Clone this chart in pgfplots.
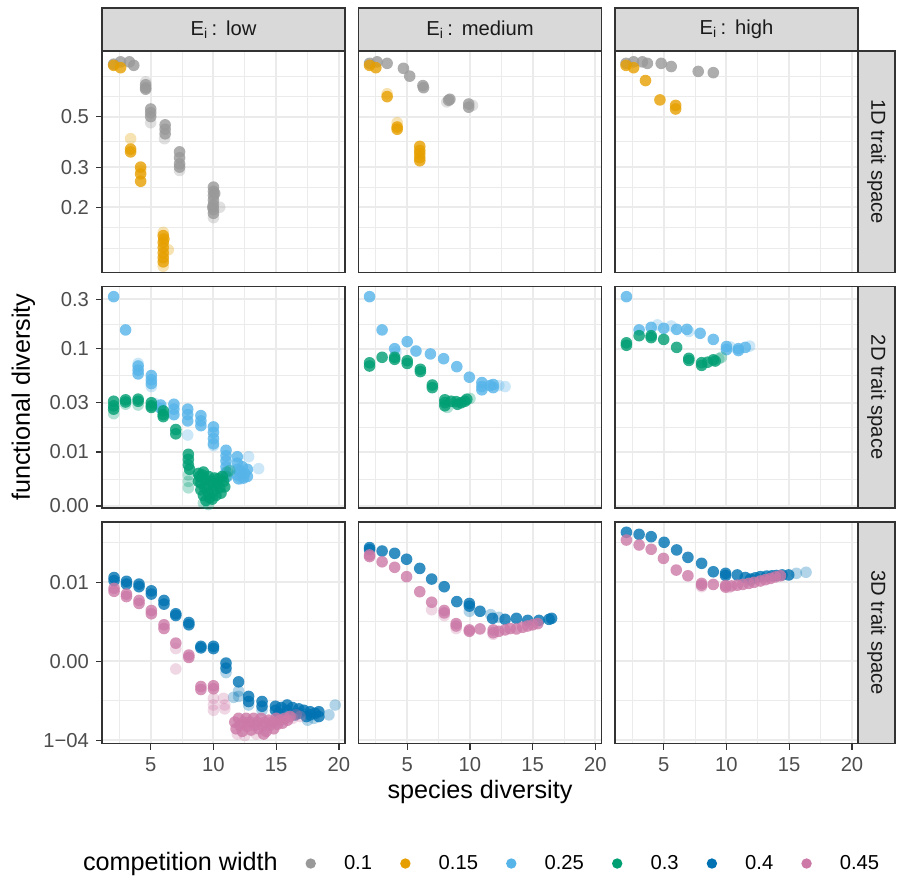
\documentclass[border=0pt]{standalone}
\usepackage{fontspec}
\setmainfont{Liberation Sans}
\usepackage{pgfplots}
\pgfplotsset{compat=1.18}
\definecolor{cgray}{HTML}{999999}
\definecolor{corange}{HTML}{E69F00}
\definecolor{csky}{HTML}{56B4E9}
\definecolor{cgreen}{HTML}{009E73}
\definecolor{cblue}{HTML}{0072B2}
\definecolor{cpink}{HTML}{CC79A7}
\definecolor{grey92}{HTML}{EBEBEB}
\definecolor{grey85}{HTML}{D9D9D9}
\definecolor{grey30}{HTML}{4D4D4D}
\definecolor{grey20}{HTML}{333333}
\definecolor{grey10}{HTML}{1A1A1A}
\newcommand{\smallfont}{\fontsize{10.1}{12}\selectfont}
\newcommand{\bigfont}{\fontsize{12.6}{15}\selectfont}

% filled circle without outline (like ggplot shape 19)
\pgfdeclareplotmark{dot}{\pgfpathcircle{\pgfpointorigin}{\pgfplotmarksize}\pgfusepathqfill}

\pgfplotsset{
  panel/.style={
    scale only axis, width=121.5pt, height=110.75pt, anchor=north west,
    xmin=1.12, xmax=20.48,
    xtick={5,10,15,20}, minor xtick={2.5,7.5,12.5,17.5},
    xticklabels={}, yticklabels={},
    grid=both,
    major grid style={draw=grey92, line width=1pt},
    minor grid style={draw=grey92, line width=0.5pt},
    axis line style={draw=grey20, line width=0.9pt},
    tick align=outside, tick pos=left,
    major tick length=3pt, minor tick length=0pt,
    tick style={line width=0.6pt},
    xtick style={draw=none}, ytick style={draw=none},
    tick label style={font=\smallfont, text=grey30},
    clip=true,
  },
  ylab/.style={ytick style={draw=grey20}},
  xlab/.style={xtick style={draw=grey20}, xticklabels={5,10,15,20},
    xticklabel style={yshift=-0.5pt}},
  row1/.style={ymin=0.1033, ymax=0.971, ytick={0.2,0.3,0.5},
    minor ytick={0.1322,0.1633,0.2449,0.3873,0.6124,0.75}},
  row2/.style={ymin=0.00287, ymax=0.40, ytick={0.003,0.01,0.03,0.1,0.3},
    minor ytick={0.005477,0.01732,0.05477,0.1732}},
  row3/.style={ymin=9.11e-5, ymax=0.058, ytick={0.0001,0.001,0.01},
    minor ytick={0.0003162,0.003162,0.03162}},
  pt/.style={only marks, mark=dot, mark size=2.9pt, mark options={fill=#1, fill opacity=0.8}},
  ptf/.style={only marks, mark=dot, mark size=2.9pt, mark options={fill=#1, fill opacity=0.3}},
}

\begin{document}
\begin{tikzpicture}
\useasboundingbox (0pt,0pt) rectangle (448.5pt,-439pt);

% ---------- row 1: 1D trait space ----------
\begin{axis}[ymode=log, panel, row1, ylab, yticklabels={0.2,0.3,0.5}, at={(51pt,-25.5pt)}]
  \addplot[pt=cgray] coordinates {
    (2.05,0.85) (2.6,0.87) (3.3,0.87) (3.65,0.84)
    (4.6,0.69) (4.6,0.67) (4.6,0.66)
    (5.0,0.54) (5.0,0.52) (5.0,0.50)
    (6.15,0.46) (6.15,0.44) (6.15,0.42)
    (7.3,0.35) (7.3,0.33) (7.3,0.31) (7.3,0.30)
    (10.0,0.245) (10.0,0.235) (10.0,0.225) (10.0,0.215) (10.0,0.205)
    (10.0,0.195) (10.0,0.188) (10.1,0.23) (9.95,0.20)};
  \addplot[ptf=cgray] coordinates {
    (4.6,0.71) (5.0,0.47) (6.1,0.40) (7.3,0.29) (10.5,0.20) (10.0,0.18)};
  \addplot[pt=corange] coordinates {
    (2.05,0.84) (2.6,0.82) (3.4,0.36) (3.4,0.35)
    (4.2,0.30) (4.2,0.28) (4.2,0.26)
    (6.0,0.15) (6.0,0.14) (6.0,0.133) (6.0,0.126) (6.0,0.12) (6.0,0.115) (6.05,0.145)};
  \addplot[ptf=corange] coordinates {
    (3.4,0.40) (4.2,0.29) (6.4,0.13) (6.0,0.11) (6.0,0.155)};
\end{axis}

\begin{axis}[ymode=log, panel, row1, at={(179.25pt,-25.5pt)}]
  \addplot[pt=cgray] coordinates {
    (2.0,0.857) (2.6,0.87) (3.4,0.857) (4.7,0.815) (5.2,0.753)
    (6.25,0.684) (6.3,0.67) (8.4,0.596) (8.3,0.59) (9.9,0.568) (9.9,0.55)};
  \addplot[ptf=cgray] coordinates {(8.15,0.58) (10.2,0.56)};
  \addplot[pt=corange] coordinates {
    (2.0,0.84) (2.5,0.82) (3.4,0.612) (4.2,0.45) (4.2,0.44)
    (6.0,0.37) (6.0,0.355) (6.0,0.343) (6.0,0.33) (6.0,0.32)};
  \addplot[ptf=corange] coordinates {(4.2,0.47) (3.4,0.63)};
\end{axis}

\begin{axis}[ymode=log, panel, row1, at={(307.5pt,-25.5pt)}]
  \addplot[pt=cgray] coordinates {
    (2.0,0.857) (2.6,0.87) (3.3,0.87) (3.7,0.857) (4.8,0.857)
    (5.6,0.83) (7.75,0.79) (8.95,0.78)};
  \addplot[pt=corange] coordinates {
    (2.0,0.84) (2.6,0.82) (3.55,0.72) (4.7,0.592) (5.95,0.56) (5.95,0.54)};
\end{axis}

% ---------- row 2: 2D trait space ----------
\begin{axis}[ymode=log, panel, row2, ylab, yticklabels={0.00,0.01,0.03,0.1,0.3}, at={(51pt,-143.25pt)}]
  \addplot[pt=csky] coordinates {
    (2.05,0.319) (3.0,0.152)
    (4.0,0.068) (4.0,0.062) (4.0,0.057)
    (5.05,0.055) (5.05,0.05) (5.05,0.046)
    (5.8,0.0285) (5.8,0.0265)
    (6.85,0.029) (6.85,0.026) (6.85,0.023)
    (7.95,0.026) (7.95,0.023) (7.95,0.020)
    (9.0,0.0225) (9.0,0.020) (9.0,0.018)
    (10.0,0.0175) (10.0,0.0155) (10.0,0.0135) (10.0,0.012)
    (11.0,0.0104) (11.0,0.0092) (11.0,0.0082) (11.0,0.0072) (11.0,0.0064) (11.1,0.0058)
    (11.9,0.0090) (11.9,0.0078) (11.9,0.0068) (11.9,0.0060) (12.1,0.0065) (12.0,0.0055)
    (12.3,0.0072) (12.5,0.0062) (12.7,0.0068) (12.7,0.0058) (12.4,0.0056)};
  \addplot[ptf=csky] coordinates {
    (4.0,0.072) (5.05,0.043) (7.95,0.0146) (10.0,0.0115) (12.8,0.0090)
    (13.6,0.0069) (12.2,0.0055) (5.3,0.0295)};
  \addplot[pt=cgreen] coordinates {
    (2.05,0.031) (2.05,0.028) (2.05,0.026) (3.0,0.032) (3.0,0.0305)
    (4.0,0.0325) (4.0,0.031) (5.05,0.030) (5.05,0.028) (5.05,0.027)
    (6.0,0.025) (6.0,0.023) (6.0,0.022) (7.0,0.0165) (7.0,0.015)
    (8.0,0.0095) (8.0,0.0085) (8.0,0.0075) (8.1,0.0068)
    (8.8,0.0062) (8.8,0.0052) (8.9,0.0058) (9.0,0.0050) (9.0,0.0043) (9.2,0.0038)
    (9.3,0.0055) (9.2,0.0064) (9.5,0.0046) (9.6,0.0040) (9.7,0.0036) (9.6,0.0058)
    (9.8,0.0052) (10.0,0.0048) (10.0,0.0042) (10.2,0.0038) (10.3,0.0050)
    (10.1,0.0056) (10.5,0.0045) (10.6,0.0040) (10.8,0.0052) (10.9,0.0046)
    (9.4,0.0034) (9.9,0.0035) (9.1,0.0060) (10.7,0.0058) (10.4,0.0055) (9.3,0.0045)};
  \addplot[ptf=cgreen] coordinates {
    (2.05,0.0235) (3.0,0.029) (4.0,0.0285) (8.0,0.006) (8.0,0.0052) (8.0,0.0045)
    (9.2,0.0032) (9.6,0.0031) (11.0,0.0058) (11.1,0.0064) (11.3,0.0066)};
\end{axis}

\begin{axis}[ymode=log, panel, row2, at={(179.25pt,-143.25pt)}]
  \addplot[pt=csky] coordinates {
    (2.0,0.319) (3.0,0.152) (4.0,0.100) (5.0,0.117) (5.7,0.095) (6.85,0.089)
    (7.9,0.080) (8.95,0.067) (9.95,0.053) (10.95,0.047) (10.95,0.043)
    (10.95,0.040) (11.85,0.045) (11.85,0.042) (11.6,0.044)};
  \addplot[ptf=csky] coordinates {(4.1,0.093) (12.8,0.043) (12.3,0.044)};
  \addplot[pt=cgreen] coordinates {
    (2.0,0.073) (2.0,0.068) (3.0,0.0826) (4.0,0.0826) (4.0,0.079) (5.0,0.0765)
    (5.0,0.072) (6.05,0.0632) (6.05,0.060) (7.0,0.0445) (7.0,0.042)
    (8.0,0.032) (8.0,0.030) (8.0,0.028) (8.5,0.031) (8.9,0.0307) (9.0,0.029)
    (9.3,0.030) (9.75,0.0324) (9.6,0.031)};
  \addplot[ptf=cgreen] coordinates {(10.0,0.033) (8.2,0.027)};
\end{axis}

\begin{axis}[ymode=log, panel, row2, at={(307.5pt,-143.25pt)}]
  \addplot[pt=csky] coordinates {
    (2.03,0.319) (3.04,0.152) (4.0,0.161) (5.0,0.1575) (6.03,0.154) (6.85,0.154)
    (7.9,0.141) (8.95,0.123) (10.0,0.105) (10.0,0.098) (10.95,0.100)
    (10.95,0.096) (11.5,0.103)};
  \addplot[ptf=csky] coordinates {
    (4.5,0.17) (5.6,0.166) (7.0,0.147) (11.85,0.106) (10.3,0.104)};
  \addplot[pt=cgreen] coordinates {
    (2.03,0.114) (2.03,0.108) (3.04,0.1336) (4.0,0.1336) (4.0,0.128) (5.0,0.123)
    (6.03,0.103) (7.0,0.0807) (7.0,0.077) (8.02,0.0732) (8.02,0.069)
    (8.5,0.074) (8.95,0.078) (9.1,0.076)};
  \addplot[ptf=cgreen] coordinates {(9.6,0.0826) (9.4,0.080)};
\end{axis}

% ---------- row 3: 3D trait space ----------
\begin{axis}[ymode=log, panel, row3, ylab, xlab, yticklabels={1−04,0.00,0.01}, at={(51pt,-261pt)}]
  \addplot[pt=cblue] coordinates {
    (2.08,0.0115) (2.08,0.0105) (3.07,0.0103) (3.07,0.0095) (4.07,0.0095)
    (4.07,0.0088) (5.05,0.0078) (5.05,0.0071) (6.06,0.0059) (6.06,0.0053)
    (7.0,0.0040) (7.0,0.0038) (8.04,0.0031) (8.04,0.0029) (9.0,0.00155)
    (9.0,0.00148) (10.0,0.00155) (10.0,0.00145) (11.0,0.00095) (11.0,0.00082)
    (12.0,0.00055) (12.8,0.00036) (12.8,0.00031) (13.87,0.00031) (13.87,0.00027)
    (14.94,0.00027) (14.94,0.00024) (15.4,0.00026) (15.87,0.00028) (15.87,0.00024)
    (16.3,0.00026) (16.8,0.00025) (16.8,0.00022) (17.2,0.00024) (17.7,0.00023)
    (17.7,0.00021) (18.1,0.00022) (18.4,0.00023) (18.4,0.00020) (15.2,0.00022)
    (16.5,0.00021) (17.4,0.00020)};
  \addplot[ptf=cblue] coordinates {
    (11.0,0.00072) (12.0,0.00042) (12.0,0.00036) (12.8,0.00028) (13.87,0.00024)
    (19.2,0.00021) (19.7,0.00028) (17.5,0.00018) (18.0,0.00019) (11.6,0.00035)};
  \addplot[pt=cpink] coordinates {
    (2.08,0.0084) (2.08,0.0077) (3.07,0.0071) (3.07,0.0066) (4.07,0.0059)
    (4.07,0.0054) (5.05,0.0044) (5.05,0.0040) (6.06,0.0029) (6.06,0.0026)
    (7.0,0.0017) (8.04,0.0012) (8.04,0.00112) (9.0,0.00048) (9.0,0.00044)
    (10.0,0.00049) (10.0,0.00045)
    (11.7,0.00017) (11.8,0.00014) (12.0,0.00019) (12.1,0.000155) (12.3,0.00013)
    (12.4,0.00017) (12.6,0.00019) (12.7,0.00015) (12.9,0.00017) (13.0,0.000135)
    (13.2,0.00019) (13.3,0.000155) (13.5,0.00017) (13.6,0.00014) (13.8,0.00019)
    (13.9,0.000155) (14.1,0.00017) (14.2,0.00013) (14.4,0.00018) (14.5,0.000155)
    (14.7,0.00017) (14.8,0.00014) (15.0,0.00019) (15.1,0.00016) (15.3,0.00018)
    (15.5,0.000165) (15.7,0.00019) (15.9,0.00018) (16.1,0.0002) (14.0,0.00012)};
  \addplot[ptf=cpink] coordinates {
    (7.0,0.00145) (7.0,0.0008) (10.0,0.00034) (10.0,0.00028) (10.0,0.00024)
    (10.8,0.00034) (10.9,0.00028) (10.9,0.00025) (11.9,0.00012) (16.3,0.00019)
    (16.6,0.00021) (16.9,0.0002) (12.5,0.000115) (13.4,0.00012)};
\end{axis}

\begin{axis}[ymode=log, panel, row3, xlab, at={(179.25pt,-261pt)}]
  \addplot[pt=cblue] coordinates {
    (2.0,0.0275) (2.0,0.026) (3.0,0.0249) (4.0,0.0233) (4.95,0.0196) (6.0,0.0150)
    (6.95,0.0110) (7.95,0.0088) (8.95,0.0057) (9.95,0.0054) (9.95,0.0050)
    (10.8,0.0043) (11.8,0.0035) (12.8,0.0034) (13.7,0.0035) (14.6,0.0033)
    (15.5,0.0033) (16.5,0.0035) (16.3,0.0034)};
  \addplot[ptf=cblue] coordinates {(9.95,0.0043) (11.65,0.0039) (12.3,0.0036)};
  \addplot[pt=cpink] coordinates {
    (2.0,0.0222) (2.0,0.0212) (3.0,0.0182) (4.0,0.0155) (4.95,0.0118) (6.0,0.0076)
    (6.95,0.0056) (7.95,0.0044) (7.95,0.0041) (8.9,0.0030) (8.9,0.0028)
    (9.95,0.0025) (9.95,0.0024) (10.8,0.00257) (11.85,0.0025) (11.85,0.0023)
    (12.3,0.0024) (12.8,0.0025) (13.2,0.0026) (13.7,0.00257) (14.2,0.0027)
    (14.6,0.0028) (15.0,0.0029) (15.4,0.0030)};
  \addplot[ptf=cpink] coordinates {(6.95,0.0045) (7.95,0.0038) (8.9,0.0026) (11.85,0.0022)};
\end{axis}

\begin{axis}[ymode=log, panel, row3, xlab, at={(307.5pt,-261pt)}]
  \addplot[pt=cblue] coordinates {
    (2.03,0.0430) (3.04,0.0405) (4.0,0.0378) (5.03,0.0321) (6.03,0.0257)
    (6.93,0.0207) (8.02,0.0174) (8.95,0.0136) (9.93,0.0130) (9.93,0.0122)
    (10.86,0.0124) (11.5,0.0115) (11.92,0.011) (12.3,0.0114) (12.7,0.0118)
    (13.2,0.012) (13.64,0.0121) (14.0,0.0122) (14.43,0.0124) (14.96,0.0124)};
  \addplot[ptf=cblue] coordinates {(15.57,0.0130) (16.34,0.0134) (11.9,0.0105)};
  \addplot[pt=cpink] coordinates {
    (2.03,0.0343) (3.04,0.0297) (4.0,0.0262) (4.98,0.0201) (6.0,0.0143)
    (6.93,0.0121) (8.02,0.0097) (8.02,0.0092) (8.95,0.0094) (9.93,0.0091)
    (9.93,0.0087) (10.4,0.0090) (10.86,0.0092) (11.3,0.0094) (11.78,0.0097)
    (12.2,0.0100) (12.7,0.0104) (13.1,0.0108) (13.5,0.0112) (13.9,0.0117)
    (14.3,0.0121)};
  \addplot[ptf=cpink] coordinates {(8.02,0.0088) (10.2,0.0086)};
\end{axis}

% ---------- strips ----------
\foreach \cx/\lab in {51/low, 179.25/medium, 307.5/high} {
  \draw[fill=grey85, draw=grey20, line width=0.9pt]
    (\cx pt,-3.85pt) rectangle ++(121.5pt,-21.65pt);
  \node[font=\smallfont, text=grey10, inner sep=0pt]
    at (\cx pt+60.75pt,-14.7pt) {E\textsubscript{i}\,:\ \,\lab};
}
\foreach \ry/\lab in {25.5/1D, 143.25/2D, 261/3D} {
  \draw[fill=grey85, draw=grey20, line width=0.9pt]
    (429pt,-\ry pt) rectangle ++(18.6pt,-110.75pt);
  \node[font=\smallfont, text=grey10, inner sep=0pt, rotate=-90]
    at (438.3pt,-\ry pt-55.375pt) {\lab\ trait space};
}

% ---------- axis titles ----------
\node[font=\bigfont, rotate=90, inner sep=0pt] at (11.7pt,-198.5pt) {functional diversity};
\node[font=\bigfont, inner sep=0pt] at (240pt,-396pt) {species diversity};

% ---------- legend ----------
\node[font=\bigfont, inner sep=0pt, anchor=west] at (41.35pt,-431.75pt) {competition width};
\begin{axis}[scale only axis, width=448.5pt, height=439pt, at={(0pt,0pt)}, anchor=north west,
  hide axis, xmin=0, xmax=1, ymin=0, ymax=1,
  legend columns=-1,
  legend image code/.code={\path[draw=none, fill=none] (0pt,-3pt) rectangle (14pt,3pt);
    \draw[#1] plot coordinates {(7pt,0pt)};},
  legend style={draw=none, fill=none, inner sep=0pt, outer sep=0pt,
    at={(0.33077,0.016515)}, anchor=west, column sep=7.65pt,
    nodes={inner sep=2pt, font=\smallfont, text=black}}]
  \addlegendimage{only marks, mark=dot, mark size=2.6pt, mark options={fill=cgray}}  \addlegendentry{0.1}
  \addlegendimage{only marks, mark=dot, mark size=2.6pt, mark options={fill=corange}}\addlegendentry{0.15}
  \addlegendimage{only marks, mark=dot, mark size=2.6pt, mark options={fill=csky}}   \addlegendentry{0.25}
  \addlegendimage{only marks, mark=dot, mark size=2.6pt, mark options={fill=cgreen}} \addlegendentry{0.3}
  \addlegendimage{only marks, mark=dot, mark size=2.6pt, mark options={fill=cblue}}  \addlegendentry{0.4}
  \addlegendimage{only marks, mark=dot, mark size=2.6pt, mark options={fill=cpink}}  \addlegendentry{0.45}
\end{axis}
\end{tikzpicture}
\end{document}
